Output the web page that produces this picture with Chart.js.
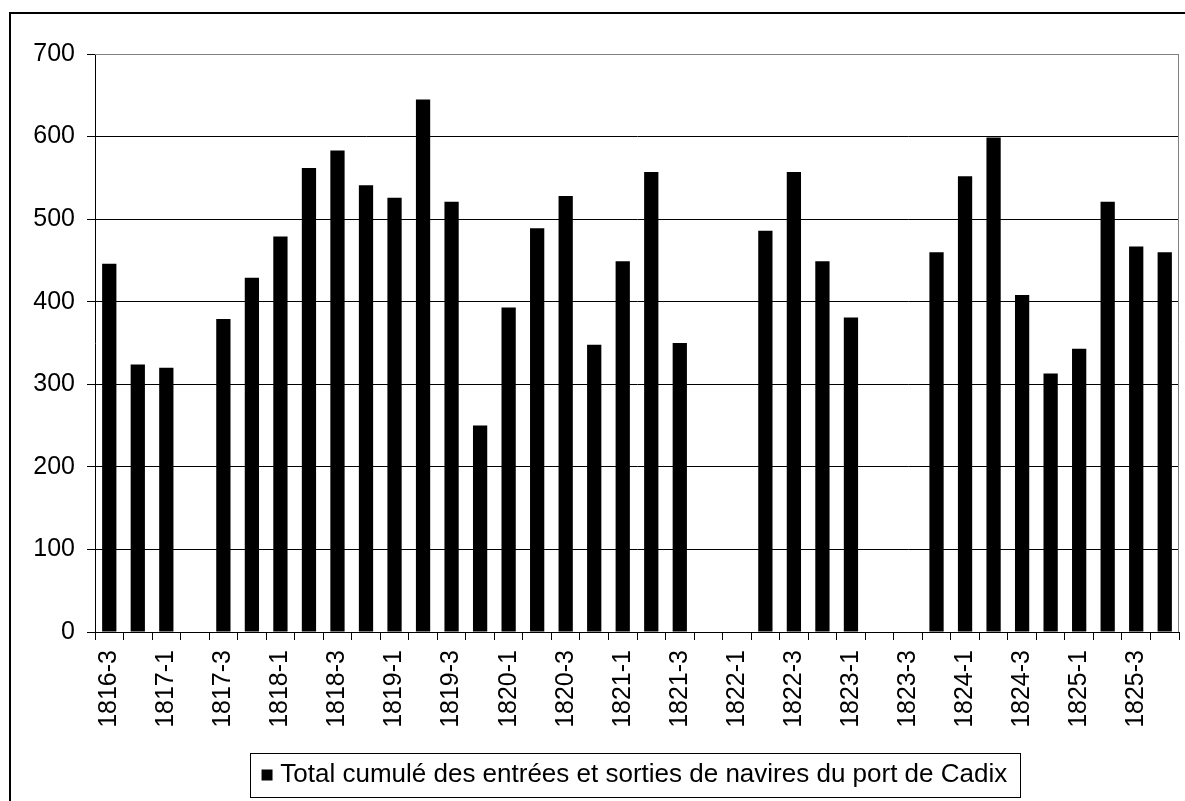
<!DOCTYPE html>
<html>
<head>
<meta charset="utf-8">
<script src="https://cdn.jsdelivr.net/npm/chart.js@4"></script>
<style>
  html, body { margin: 0; padding: 0; background: #fff; }
  canvas { display: block; }
</style>
</head>
<body>
<canvas id="c" width="1185" height="801"></canvas>
<script>
// Quarterly periods (year-quarter)
const periods = [
  '1816-3', '1816-4',
  '1817-1', '1817-2', '1817-3', '1817-4',
  '1818-1', '1818-2', '1818-3', '1818-4',
  '1819-1', '1819-2', '1819-3', '1819-4',
  '1820-1', '1820-2', '1820-3', '1820-4',
  '1821-1', '1821-2', '1821-3', '1821-4',
  '1822-1', '1822-2', '1822-3', '1822-4',
  '1823-1', '1823-2', '1823-3', '1823-4',
  '1824-1', '1824-2', '1824-3', '1824-4',
  '1825-1', '1825-2', '1825-3', '1825-4'
];

// Ships entering + leaving the port per quarter (null = no record)
const totals = [
  446, 324,
  320, null, 379, 429,
  479, 562, 583, 541,
  526, 645, 521, 250,
  393, 489, 528, 348,
  449, 557, 350, null,
  null, 486, 557, 449,
  381, null, null, 460,
  552, 599, 408, 313,
  343, 521, 467, 460
];

const seriesName = 'Total cumulé des entrées et sorties de navires du port de Cadix';
const yTicks = [0, 100, 200, 300, 400, 500, 600, 700];

const FONT = '"Liberation Sans", Arial, sans-serif';

// White background, outer frame, plot-area edge and legend box outline
const framePlugin = {
  id: 'frame',
  beforeDraw(chart) {
    const { ctx, width, height } = chart;
    ctx.save();
    ctx.fillStyle = '#fff';
    ctx.fillRect(0, 0, width, height);
    ctx.restore();
  },
  afterDraw(chart) {
    const { ctx, chartArea: a, legend } = chart;
    ctx.save();
    ctx.strokeStyle = '#000';
    ctx.lineWidth = 2;
    ctx.strokeRect(10, 13, chart.width + 20, chart.height + 20);

    ctx.strokeStyle = '#808080';
    ctx.lineWidth = 1;
    ctx.beginPath();
    ctx.moveTo(a.left, Math.round(a.top) + 0.5);
    ctx.lineTo(Math.round(a.right) - 0.5, Math.round(a.top) + 0.5);
    ctx.lineTo(Math.round(a.right) - 0.5, Math.round(a.bottom));
    ctx.stroke();

    const hb = legend && legend.legendHitBoxes && legend.legendHitBoxes[0];
    if (hb) {
      const yc = hb.top + hb.height / 2;
      const x0 = Math.round(hb.left - 17) + 0.5;
      const x1 = Math.round(hb.left + hb.width + 13) + 0.5;
      const y0 = Math.round(yc - 22) + 0.5;
      const y1 = Math.round(yc + 22) + 0.5;
      ctx.strokeStyle = '#000';
      ctx.lineWidth = 1;
      ctx.strokeRect(x0, y0, x1 - x0, y1 - y0);
    }
    ctx.restore();
  }
};

new Chart(document.getElementById('c'), {
  type: 'bar',
  data: {
    labels: periods,
    datasets: [{
      label: seriesName,
      data: totals,
      backgroundColor: '#000',
      borderColor: '#000',
      borderWidth: 0,
      barPercentage: 0.5,
      categoryPercentage: 1
    }]
  },
  options: {
    responsive: false,
    animation: false,
    layout: { padding: { left: 0, top: 54, right: 6, bottom: 3 } },
    plugins: {
      legend: {
        position: 'bottom',
        fullSize: false,
        labels: {
          color: '#000',
          font: { family: FONT, size: 26 },
          usePointStyle: true,
          pointStyle: 'rect',
          boxWidth: 0.5,
          boxHeight: 11,
          padding: 30
        }
      },
      tooltip: { enabled: false }
    },
    scales: {
      x: {
        offset: true,
        grid: {
          display: true,
          offset: true,
          drawOnChartArea: false,
          drawTicks: true,
          tickLength: 8,
          color: '#000'
        },
        border: { display: true, color: '#000', width: 1 },
        ticks: {
          autoSkip: false,
          maxRotation: 90,
          minRotation: 90,
          padding: 10,
          color: '#000',
          font: { family: FONT, size: 25 },
          callback: (v, i) => (i % 2 === 0 ? periods[i] : '')
        },
        afterFit: s => {
          s.height = 100;
          s.paddingLeft = 0;
          s.paddingRight = 0;
        }
      },
      y: {
        min: 0,
        max: 700,
        afterBuildTicks: s => { s.ticks = yTicks.map(v => ({ value: v })); },
        grid: {
          color: c => (c.tick && c.tick.value === 700 ? '#808080' : '#000'),
          tickColor: '#000',
          tickLength: 8,
          lineWidth: 1
        },
        border: { display: true, color: '#000', width: 1 },
        ticks: {
          padding: 12,
          color: '#000',
          font: { family: FONT, size: 25 }
        },
        afterFit: s => { s.width = 95; }
      }
    }
  },
  plugins: [framePlugin]
});
</script>
</body>
</html>
